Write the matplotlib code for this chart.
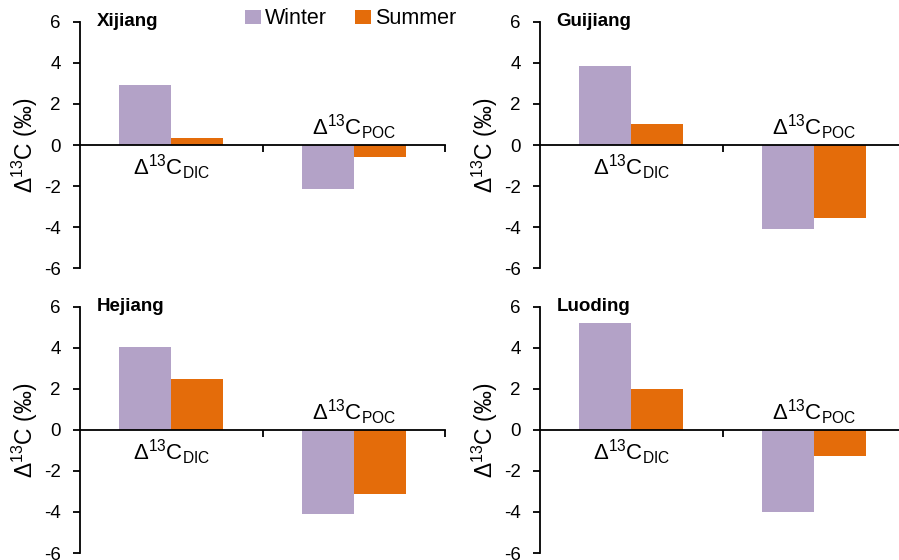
import matplotlib
matplotlib.use('Agg')
import matplotlib.pyplot as plt
import numpy as np

plt.rcParams['font.family'] = ['Liberation Sans', 'DejaVu Sans']
plt.rcParams['mathtext.fontset'] = 'custom'
plt.rcParams['mathtext.rm'] = 'Liberation Sans'
plt.rcParams['mathtext.it'] = 'Liberation Sans'
plt.rcParams['axes.unicode_minus'] = False

sites = ['Xijiang', 'Guijiang', 'Hejiang', 'Luoding']
seasons = ['Winter', 'Summer']
colors = ['#B3A2C7', '#E46C0A']
# values per site: [DIC, POC]
winter = {'Xijiang': [2.93, -2.14], 'Guijiang': [3.87, -4.10],
          'Hejiang': [4.05, -4.10], 'Luoding': [5.21, -4.02]}
summer = {'Xijiang': [0.33, -0.60], 'Guijiang': [1.04, -3.57],
          'Hejiang': [2.45, -3.13], 'Luoding': [1.99, -1.30]}
yticks = [-6, -4, -2, 0, 2, 4, 6]

fig = plt.figure(figsize=(8.99, 5.6), dpi=100)
positions = [(0.089, 0.521), (0.6007, 0.521), (0.089, 0.0125), (0.6007, 0.0125)]
w, h = 0.406, 0.440

bw = 0.285
x = np.array([1, 2])
for site, (left, bottom) in zip(sites, positions):
    ax = fig.add_axes([left, bottom, w, h])
    b1 = ax.bar(x - bw / 2, winter[site], bw, color=colors[0], label=seasons[0])
    b2 = ax.bar(x + bw / 2, summer[site], bw, color=colors[1], label=seasons[1])
    ax.set_xlim(0.5, 2.5)
    ax.set_ylim(-6, 6)
    ax.set_yticks(yticks)
    ax.set_yticklabels([str(t) for t in yticks], fontsize=13.5)
    ax.set_xticks([1.5, 2.5])
    ax.set_xticklabels([])
    ax.spines['top'].set_visible(False)
    ax.spines['right'].set_visible(False)
    ax.spines['bottom'].set_position(('data', 0))
    for s in ['left', 'bottom']:
        ax.spines[s].set_linewidth(1.3)
    ax.tick_params(axis='y', direction='out', length=5, width=1.3, pad=9)
    ax.tick_params(axis='x', direction='out', length=5, width=1.3)
    ax.set_ylabel('Δ$^{13}$C (‰)', fontsize=16.5, labelpad=3)
    ax.text(0.59, 6, site, fontsize=13.5, fontweight='bold', va='center', ha='left')
    ax.text(1, -1.1, 'Δ$^{13}$C$_{\\mathrm{DIC}}$', fontsize=16, ha='center', va='center')
    ax.text(2, 0.85, 'Δ$^{13}$C$_{\\mathrm{POC}}$', fontsize=16, ha='center', va='center')
    ax.patch.set_alpha(0)
    if site == 'Xijiang':
        handles = [b1, b2]

fig.legend(handles, seasons, loc='upper left', bbox_to_anchor=(0.272, 0.985),
           ncol=2, frameon=False, fontsize=15.5, borderaxespad=0, borderpad=0,
           handlelength=0.75, handleheight=0.65, handletextpad=0.2, columnspacing=1.3)

fig.savefig('out.png', dpi=100)
